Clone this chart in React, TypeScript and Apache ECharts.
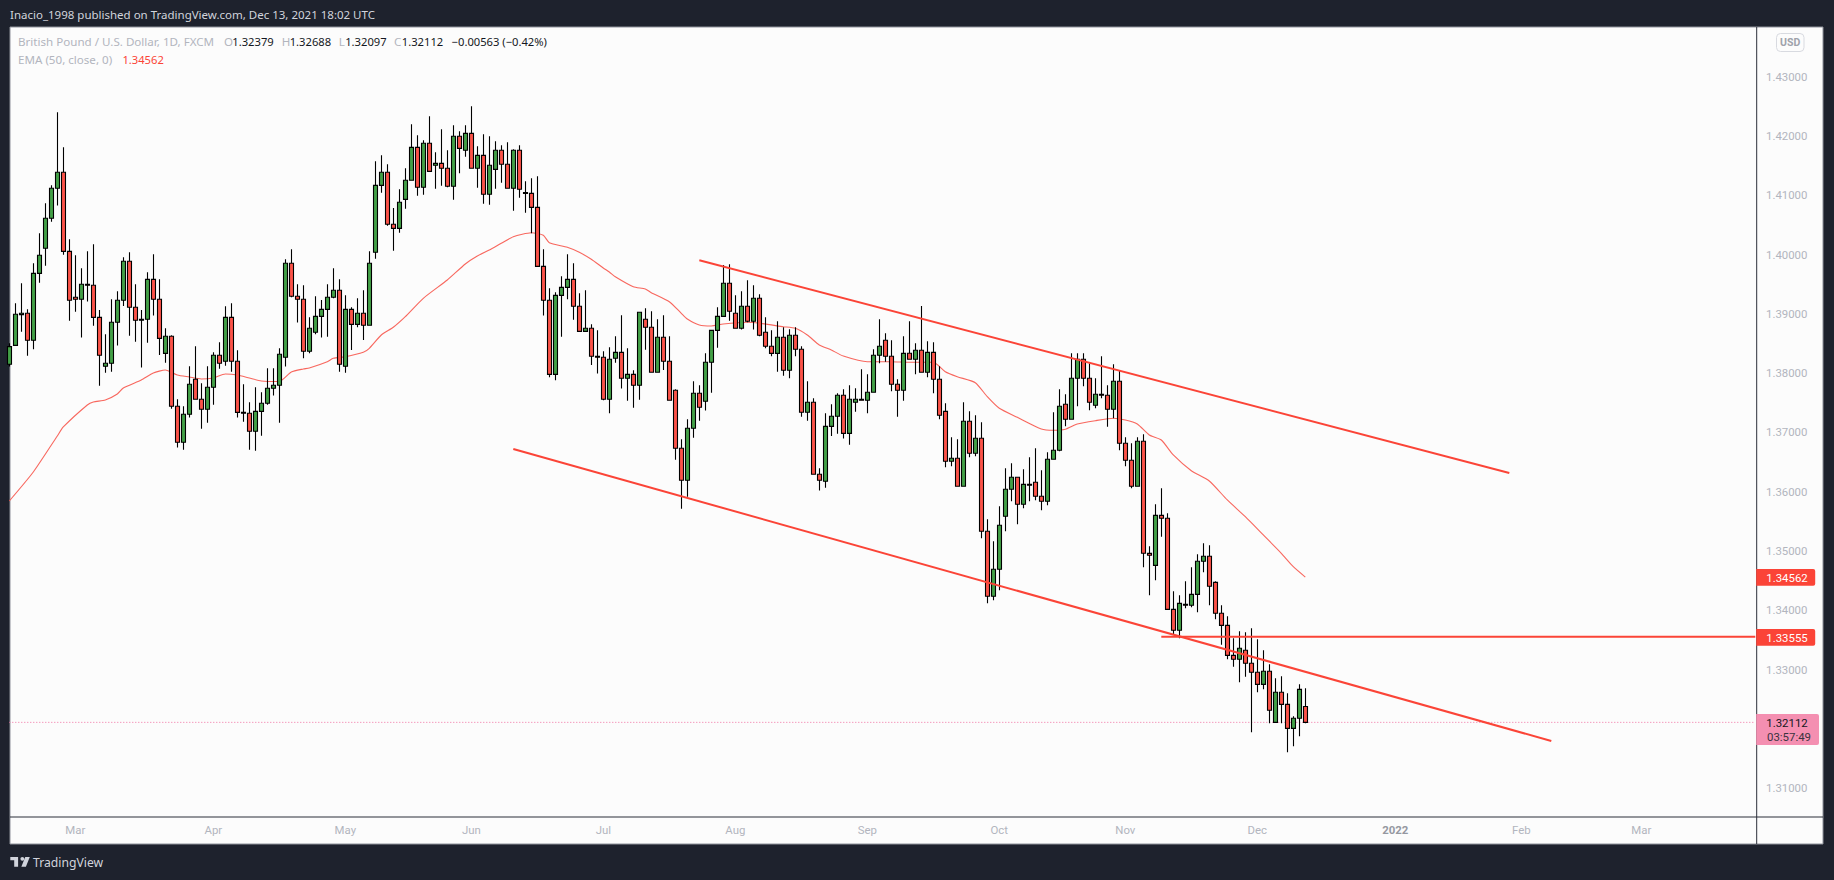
import React, { useEffect, useRef } from "react";
import * as echarts from "echarts";

const opens = [
1.38150,1.38470,1.38987,1.39010,1.38555,1.39684,1.40106,1.40612,1.41118,1.41388,
1.40055,1.39280,1.39246,1.39499,1.39482,1.38942,1.38116,1.38167,1.38858,1.39229,
1.39887,1.39111,1.38892,1.38909,1.39583,1.39246,1.38335,1.38622,1.37442,1.36835,
1.37307,1.37897,1.37560,1.37391,1.37762,1.38302,1.38201,1.38942,1.38201,1.37340,
1.37324,1.37020,1.37357,1.37492,1.37745,1.37796,1.38268,1.39853,1.39297,1.39246,
1.38369,1.38690,1.38959,1.39077,1.39280,1.39398,1.38116,1.39077,1.38824,1.39010,
1.38808,1.40039,1.41168,1.41388,1.40511,1.40443,1.40932,1.41253,1.41809,1.41135,
1.41877,1.41506,1.41539,1.41455,1.41152,1.41995,1.41759,1.42045,1.41455,1.41674,
1.41017,1.41438,1.41759,1.41523,1.41118,1.41759,1.41045,1.41033,1.40797,1.39802,
1.39229,1.37981,1.39313,1.39448,1.39583,1.39128,1.38706,1.38757,1.38285,1.38268,
1.37560,1.38251,1.38352,1.37914,1.37981,1.37796,1.38909,1.38774,1.38015,1.38605,
1.38201,1.37712,1.36734,1.36194,1.37071,1.37661,1.37526,1.38184,1.38723,1.38959,
1.39516,1.39010,1.38757,1.39128,1.38875,1.39263,1.38690,1.38454,1.38335,1.38605,
1.38049,1.38639,1.38403,1.37341,1.37509,1.36295,1.36177,1.37104,1.37273,1.37627,
1.36986,1.37509,1.37560,1.37543,1.37678,1.38302,1.38555,1.38285,1.37813,1.37712,
1.38336,1.38234,1.38386,1.38015,1.38352,1.37897,1.37357,1.36514,1.36565,1.36093,
1.37189,1.36649,1.36902,1.35334,1.34238,1.34693,1.35587,1.36042,1.36245,1.35789,
1.36126,1.36160,1.35924,1.35840,1.36548,1.36700,1.37476,1.37223,1.37914,1.38234,
1.37914,1.37459,1.37644,1.37627,1.37391,1.37863,1.36818,1.36531,1.36093,1.36852,
1.34962,1.34760,1.35603,1.35553,1.34018,1.33664,1.34102,1.34086,1.34271,1.34828,
1.34912,1.34473,1.33951,1.33748,1.33242,1.33175,1.33327,1.33108,1.32956,1.32753,
1.32973,1.32112,1.32619,1.32416,1.32011,1.32180,1.32379,
];

const closes = [
1.38448,1.38993,1.39010,1.38555,1.39684,1.39988,1.40612,1.41118,1.41388,1.40055,
1.39229,1.39246,1.39499,1.39482,1.38942,1.38302,1.38167,1.38858,1.39229,1.39887,
1.39111,1.38892,1.38909,1.39583,1.39246,1.38588,1.38622,1.37442,1.36835,1.37307,
1.37813,1.37560,1.37391,1.37762,1.38302,1.38167,1.38942,1.38201,1.37340,1.37324,
1.37020,1.37357,1.37492,1.37745,1.37796,1.38319,1.39853,1.39297,1.39246,1.38369,
1.38757,1.38959,1.39077,1.39280,1.39398,1.38150,1.39077,1.38824,1.39010,1.38808,
1.39853,1.41168,1.41388,1.40511,1.40443,1.40882,1.41253,1.41809,1.41135,1.41877,
1.41404,1.41539,1.41455,1.41152,1.41995,1.41792,1.42045,1.41455,1.41674,1.41017,
1.41506,1.41759,1.41523,1.41118,1.41759,1.41101,1.41033,1.40797,1.39802,1.39229,
1.37981,1.39313,1.39448,1.39583,1.39128,1.38706,1.38757,1.38285,1.38268,1.37560,
1.38234,1.38352,1.37914,1.37981,1.37796,1.39027,1.38774,1.38015,1.38605,1.38201,
1.37543,1.36734,1.36194,1.37071,1.37661,1.37425,1.38184,1.38723,1.38959,1.39516,
1.39044,1.38757,1.39128,1.38875,1.39263,1.38639,1.38454,1.38335,1.38605,1.38049,
1.38639,1.38403,1.37341,1.37509,1.36295,1.36194,1.37104,1.37273,1.37627,1.36986,
1.37560,1.37560,1.37543,1.37678,1.38302,1.38454,1.38285,1.37813,1.37712,1.38335,
1.38234,1.38386,1.38015,1.38352,1.37897,1.37290,1.36514,1.36565,1.36093,1.37189,
1.36649,1.36902,1.35334,1.34238,1.34693,1.35435,1.36042,1.36245,1.35789,1.36126,
1.36110,1.35924,1.35840,1.36548,1.36700,1.37442,1.37223,1.37914,1.38234,1.37914,
1.37509,1.37644,1.37627,1.37391,1.37863,1.36818,1.36531,1.36093,1.36852,1.34963,
1.34929,1.35603,1.35553,1.34018,1.33664,1.34119,1.34086,1.34271,1.34828,1.34912,
1.34406,1.33951,1.33748,1.33242,1.33175,1.33361,1.33108,1.32956,1.32753,1.32973,
1.32315,1.32619,1.32416,1.32011,1.32180,1.32669,1.32112,
];

const lows = [
1.38111,1.38470,1.38701,1.38296,1.38403,1.39527,1.39814,1.40556,1.40826,1.39999,
1.38886,1.39038,1.38600,1.39207,1.38802,1.37790,1.38009,1.38026,1.38465,1.39134,
1.38633,1.38532,1.38094,1.38515,1.38971,1.38307,1.38178,1.37402,1.36745,1.36711,
1.37251,1.37560,1.37065,1.37166,1.37470,1.38077,1.38127,1.38026,1.37251,1.37183,
1.36711,1.36694,1.36947,1.37470,1.37622,1.37166,1.38111,1.39280,1.38853,1.38251,
1.38335,1.38656,1.38600,1.38616,1.39263,1.38026,1.38009,1.38392,1.38774,1.38560,
1.38808,1.39932,1.41045,1.40488,1.40067,1.40370,1.40775,1.41253,1.40994,1.41011,
1.41404,1.41112,1.41163,1.41135,1.40927,1.41371,1.41652,1.41455,1.41129,1.40859,
1.40842,1.41112,1.41213,1.41118,1.40741,1.40960,1.40707,1.40359,1.39802,1.38971,
1.37931,1.37880,1.38616,1.39246,1.38903,1.38706,1.38706,1.38139,1.37993,1.37543,
1.37324,1.38178,1.37740,1.37537,1.37419,1.37554,1.38397,1.38015,1.38015,1.38054,
1.37543,1.36542,1.35716,1.35918,1.36913,1.37200,1.37369,1.37672,1.38431,1.38959,
1.38886,1.38757,1.38735,1.38858,1.38735,1.38622,1.38420,1.38285,1.38026,1.37959,
1.37914,1.38285,1.37267,1.37200,1.36295,1.36020,1.36070,1.36941,1.36981,1.36897,
1.36795,1.37352,1.37543,1.37324,1.37678,1.38167,1.38195,1.37695,1.37267,1.37537,
1.38234,1.37981,1.38015,1.37931,1.37661,1.37223,1.36413,1.36430,1.36093,1.36093,
1.36582,1.36599,1.35216,1.34120,1.34170,1.34339,1.35334,1.35840,1.35452,1.35722,
1.35840,1.35857,1.35688,1.35772,1.36548,1.36683,1.37105,1.37223,1.37442,1.37779,
1.37374,1.37408,1.37577,1.37099,1.37239,1.36700,1.36430,1.36059,1.36093,1.34727,
1.34254,1.34507,1.35244,1.34018,1.33597,1.33529,1.34035,1.34052,1.33968,1.34642,
1.34086,1.33850,1.33422,1.33175,1.33051,1.32787,1.32883,1.31944,1.32619,1.32669,
1.32096,1.32112,1.32096,1.31607,1.31708,1.31877,1.32097,
];

const highs = [
1.38504,1.39179,1.39516,1.39077,1.39853,1.40359,1.40865,1.41168,1.42399,1.41809,
1.40258,1.39988,1.39769,1.40055,1.40173,1.39066,1.38656,1.39246,1.39381,1.39954,
1.40039,1.39499,1.39066,1.39701,1.40005,1.39583,1.38757,1.38639,1.37560,1.37442,
1.38116,1.38453,1.37830,1.38116,1.38352,1.38521,1.39128,1.39179,1.38386,1.37813,
1.37509,1.37762,1.37678,1.38082,1.38082,1.38420,1.39921,1.40089,1.39499,1.39482,
1.38942,1.39297,1.39235,1.39499,1.39769,1.39583,1.39313,1.39111,1.39263,1.39398,
1.40055,1.41573,1.41674,1.41523,1.40786,1.41101,1.41455,1.42197,1.42012,1.41927,
1.42332,1.41725,1.42113,1.41759,1.42180,1.42079,1.42180,1.42501,1.41826,1.42028,
1.41995,1.41910,1.41843,1.41894,1.41776,1.41843,1.41236,1.41286,1.41320,1.40089,
1.39432,1.39364,1.39634,1.40005,1.39853,1.39347,1.39398,1.38824,1.38723,1.38369,
1.38437,1.38622,1.38976,1.38420,1.38049,1.39027,1.39094,1.39044,1.38909,1.38976,
1.38622,1.37728,1.36885,1.37223,1.37863,1.37796,1.38335,1.38723,1.39111,1.39825,
1.39836,1.39314,1.39381,1.39566,1.39482,1.39330,1.38943,1.38723,1.38875,1.38774,
1.38740,1.38774,1.38454,1.37863,1.37577,1.36396,1.37324,1.37475,1.37661,1.37728,
1.37796,1.37745,1.38066,1.37981,1.38403,1.38909,1.38673,1.38555,1.37897,1.38622,
1.38875,1.38504,1.39133,1.38538,1.38521,1.38116,1.37492,1.36919,1.36885,1.37509,
1.37357,1.37290,1.37172,1.35536,1.35165,1.35755,1.36396,1.36481,1.36245,1.36379,
1.36582,1.36734,1.36363,1.36666,1.37341,1.37728,1.37644,1.38336,1.38336,1.38336,
1.38167,1.37914,1.38285,1.37796,1.38150,1.38049,1.36919,1.36818,1.36919,1.36970,
1.35081,1.35789,1.36059,1.35637,1.34322,1.34254,1.34490,1.34726,1.34946,1.35131,
1.35097,1.34490,1.34086,1.33900,1.33529,1.33647,1.33630,1.33698,1.33512,1.33327,
1.33091,1.32855,1.32888,1.32602,1.32214,1.32753,1.32688,
];

// EMA (50) at the bars where its course changes: [bar, price]
const ema: [number, number][] = [
[0,1.35845],[4,1.36334],[8,1.36941],[9,1.37093],[13,1.37464],[14,1.37514],[16,1.37548],[18,1.37649],[19,1.37751],
[22,1.37885],[24,1.38003],[26,1.38054],[28,1.37970],[30,1.37936],[32,1.37902],[34,1.37919],[36,1.37987],[38,1.37970],
[40,1.37919],[42,1.37869],[45,1.37860],[47,1.38020],[49,1.38071],[50,1.38088],[53,1.38194],[54,1.38251],[56,1.38278],
[59,1.38353],[60,1.38420],[62,1.38644],[64,1.38774],[66,1.38953],[69,1.39263],[73,1.39572],[76,1.39842],[78,1.39976],
[80,1.40078],[82,1.40191],[84,1.40302],[87,1.40369],[89,1.40326],[90,1.40201],[93,1.40123],[95,1.40039],[97,1.39921],
[99,1.39774],[100,1.39707],[101,1.39627],[104,1.39459],[106,1.39420],[107,1.39358],[110,1.39206],[112,1.39010],
[113,1.38914],[115,1.38813],[117,1.38796],[119,1.38830],[123,1.38858],[125,1.38842],[129,1.38784],[131,1.38757],
[133,1.38644],[135,1.38476],[137,1.38391],[139,1.38290],[143,1.38194],[147,1.38194],[150,1.38184],[154,1.38184],
[156,1.38025],[158,1.37941],[161,1.37840],[163,1.37604],[165,1.37408],[168,1.37256],[172,1.37059],[174,1.37037],
[176,1.37054],[178,1.37143],[181,1.37199],[184,1.37240],[186,1.37211],[188,1.37143],[190,1.36958],[192,1.36874],
[194,1.36621],[197,1.36356],[200,1.36182],[203,1.35862],[206,1.35580],[209,1.35272],[212,1.34963],[214,1.34737],[216,1.34562],
];

const upperChannel: [number, number][] = [[115, 1.39904], [250, 1.36317]];
const lowerChannel: [number, number][] = [[84, 1.36722], [257, 1.31798]];
const supportLine: [number, number][] = [[192, 1.33555], [291, 1.33555]];
const lastClose: [number, number][] = [[0, 1.32112], [291, 1.32112]];

const priceTickLabels = [1.31, 1.33, 1.34, 1.35, 1.36, 1.37, 1.38, 1.39, 1.40, 1.41, 1.42, 1.43];
const monthBars = [11, 34, 56, 77, 99, 121, 143, 165, 186, 208, 231, 252, 272];
const monthNames = ["Mar", "Apr", "May", "Jun", "Jul", "Aug", "Sep", "Oct", "Nov", "Dec", "2022", "Feb", "Mar"];
const slotCount = 292;

const FONT = 'Roboto';
const NOTO = '"Noto Sans"';
const GREY = "#b2b5be";
const RED = "#fb4437";

const logoPath =
  "M14 6H2v5h6v10h6V6Z M26 21H19L25 6h7L26 21Z M20.5 12a3 3 0 1 0 0-6 3 3 0 0 0 0 6Z";
echarts.graphic.registerShape("tvlogo", (echarts.graphic as any).extendPath(logoPath, {}));

function txt(text: string, x: number, y: number, fill: string, size = 11.6, weight = "normal", align = "left", family = NOTO) {
  return {
    type: "text",
    x,
    y,
    z: 100,
    style: {
      text,
      fill,
      font: `${weight} ${size}px ${family}`,
      textVerticalAlign: "middle",
      textAlign: align,
    },
  };
}

export default function App() {
  const ref = useRef<HTMLDivElement>(null);
  useEffect(() => {
    const chart = echarts.init(ref.current!, undefined, { renderer: "svg" });
    const categories = Array.from({ length: slotCount }, (_, i) => {
      const m = monthBars.indexOf(i);
      return m >= 0 ? monthNames[m] : `#${i}`;
    });
    const option: any = {
      animation: false,
      backgroundColor: "#1e222d",
      grid: { left: 9.3, right: 78.7, top: 27, bottom: 63, containLabel: false },
      xAxis: {
        type: "category",
        data: categories,
        boundaryGap: false,
        axisLine: { show: false },
        axisTick: { show: false },
        splitLine: { show: false },
        axisLabel: {
          color: GREY,
          fontFamily: FONT,
          fontSize: 11.4,
          margin: 7.5,
          interval: (i: number) => monthBars.includes(i),
          hideOverlap: false,
          formatter: (v: string) => (v === "2022" ? `{y|${v}}` : v),
          rich: { y: { color: "#9598a1", fontWeight: "bold", fontFamily: FONT, fontSize: 11.4 } },
        },
      },
      yAxis: {
        type: "value",
        position: "right",
        min: 1.30516,
        max: 1.438381,
        axisLine: { show: false },
        axisTick: { show: false },
        splitLine: { show: false },
        axisLabel: {
          color: GREY,
          fontFamily: FONT,
          fontSize: 11.4,
          margin: 10.7,
          customValues: priceTickLabels,
          formatter: (v: number) => v.toFixed(5),
        },
      },
      series: [
        {
          type: "line",
          name: "EMA",
          data: ema,
          smooth: 0.2,
          showSymbol: false,
          symbol: "none",
          z: 1,
          lineStyle: { color: "#f7564d", width: 1.1, opacity: 0.9 },
        },
        {
          type: "candlestick",
          data: opens.map((o, i) => [o, closes[i], lows[i], highs[i]]),
          barWidth: 4.2,
          z: 2,
          itemStyle: {
            color: "#43a047",
            color0: "#fb5349",
            borderColor: "#000000",
            borderColor0: "#000000",
            borderColorDoji: "#000000",
            borderWidth: 1.1,
          },
        },
        ...[upperChannel, lowerChannel, supportLine].map((d) => ({
          type: "line",
          data: d,
          showSymbol: false,
          symbol: "none",
          z: 3,
          lineStyle: { color: RED, width: 2 },
        })),
        {
          type: "line",
          data: lastClose,
          showSymbol: false,
          symbol: "none",
          z: 1,
          lineStyle: { color: "#f06ea0", width: 1, type: [1, 2] },
        },
      ],
      graphic: {
        elements: [
          { type: "rect", z: -10, shape: { x: 10, y: 27, width: 1813, height: 817 }, style: { fill: "#fcfcfc", stroke: "#8f929b", lineWidth: 1 } },
          { type: "line", z: 90, shape: { x1: 1756.7, y1: 27, x2: 1756.7, y2: 844 }, style: { stroke: "#2a2e39", lineWidth: 1 } },
          { type: "line", z: 90, shape: { x1: 10, y1: 817, x2: 1823, y2: 817 }, style: { stroke: "#2a2e39", lineWidth: 1 } },

          txt("Inacio_1998 published on TradingView.com, Dec 13, 2021 18:02 UTC", 10, 14.5, "#d1d4dc", 11.5),

          txt("British Pound / U.S. Dollar, 1D, FXCM", 18, 41.5, GREY),
          txt("O", 224, 41.5, GREY),
          txt("1.32379", 232.3, 41.5, "#131722", 11.2),
          txt("H", 281.7, 41.5, GREY),
          txt("1.32688", 289.7, 41.5, "#131722", 11.2),
          txt("L", 338.7, 41.5, GREY),
          txt("1.32097", 345.2, 41.5, "#131722", 11.2),
          txt("C", 394, 41.5, GREY),
          txt("1.32112", 401.8, 41.5, "#131722", 11.2),
          txt("\u22120.00563 (\u22120.42%)", 451.6, 41.5, "#131722", 11.2),
          txt("EMA (50, close, 0)", 18, 59, GREY),
          txt("1.34562", 122.4, 59, RED, 11.2),

          { type: "rect", z: 100, shape: { x: 1776.5, y: 33.5, width: 27.5, height: 18, r: 4 }, style: { fill: "#fcfcfc", stroke: "#d8dae0", lineWidth: 1 } },
          { ...txt("USD", 1790.2, 42.5, "#9fa2ab", 10.5, "bold", "center", FONT), z: 101 },

          { type: "rect", z: 100, shape: { x: 1756.2, y: 569, width: 59, height: 16.8, r: [0, 2, 2, 0] }, style: { fill: RED } },
          { ...txt("1.34562", 1787, 577.5, "#ffffff", 11.4, "normal", "center", FONT), z: 101 },
          { type: "rect", z: 100, shape: { x: 1756.2, y: 629, width: 59, height: 16.8, r: [0, 2, 2, 0] }, style: { fill: RED } },
          { ...txt("1.33555", 1787, 637.5, "#ffffff", 11.4, "normal", "center", FONT), z: 101 },
          { type: "rect", z: 100, shape: { x: 1756.2, y: 714, width: 62.8, height: 31, r: [0, 2, 2, 0] }, style: { fill: "#f48fb1" } },
          { ...txt("1.32112", 1787, 722.7, "#131722", 11.4, "normal", "center", FONT), z: 101 },
          { ...txt("03:57:49", 1789, 736.7, "#3a3440", 11.4, "normal", "center", FONT), z: 101 },

          { type: "tvlogo", x: 9, y: 853, scaleX: 0.65, scaleY: 0.65, z: 100, style: { fill: "#d1d4dc" } },
          txt("TradingView", 33, 862.5, "#d1d4dc", 12.2),
        ],
      },
    };
    chart.setOption(option);
    return () => chart.dispose();
  }, []);
  return <div ref={ref} style={{ position: "fixed", left: 0, top: 0, width: 1834, height: 880 }} />;
}
